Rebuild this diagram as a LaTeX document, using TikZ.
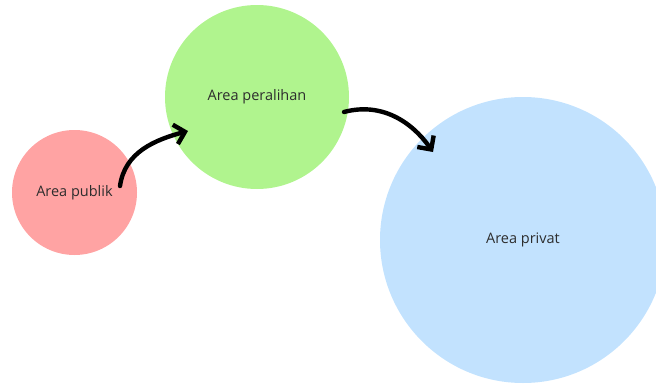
\documentclass[tikz,border=0pt]{standalone}
\usepackage{fontspec}
\setmainfont{Open Sans}
\usetikzlibrary{positioning,arrows.meta}
\definecolor{publikred}{RGB}{255,163,163}
\definecolor{peralihangreen}{RGB}{176,244,142}
\definecolor{privatblue}{RGB}{194,226,254}
\definecolor{labelgray}{RGB}{45,45,45}

\begin{document}
\begin{tikzpicture}[x=1pt, y=-1pt,
    area/.style={circle, inner sep=0pt, text=labelgray, font=\fontsize{14.5}{17}\selectfont},
    flow/.style={line width=4.4pt, line cap=round, -{Straight Barb[length=10pt, width=20pt, line width=4.4pt]}}]

    \useasboundingbox (0,0) rectangle (656,383);

    \node [area, fill=publikred, minimum size=125pt] (publik) at (74.5,192.5) {Area publik};
    \node [area, fill=peralihangreen, minimum size=184pt] (peralihan) at (257,97) {Area peralihan};
    \node [area, fill=privatblue, minimum size=286pt] (privat) at (523,240) {Area privat};

    \coordinate (publik out) at (120,186);
    \coordinate (peralihan in) at (188,131);
    \coordinate (peralihan out) at (344,112);
    \coordinate (privat in) at (433,152);

    \draw [flow] (publik out) to [out=82, in=195] (peralihan in);
    \draw [flow] (peralihan out) to [out=15, in=125] (privat in);
\end{tikzpicture}
\end{document}
